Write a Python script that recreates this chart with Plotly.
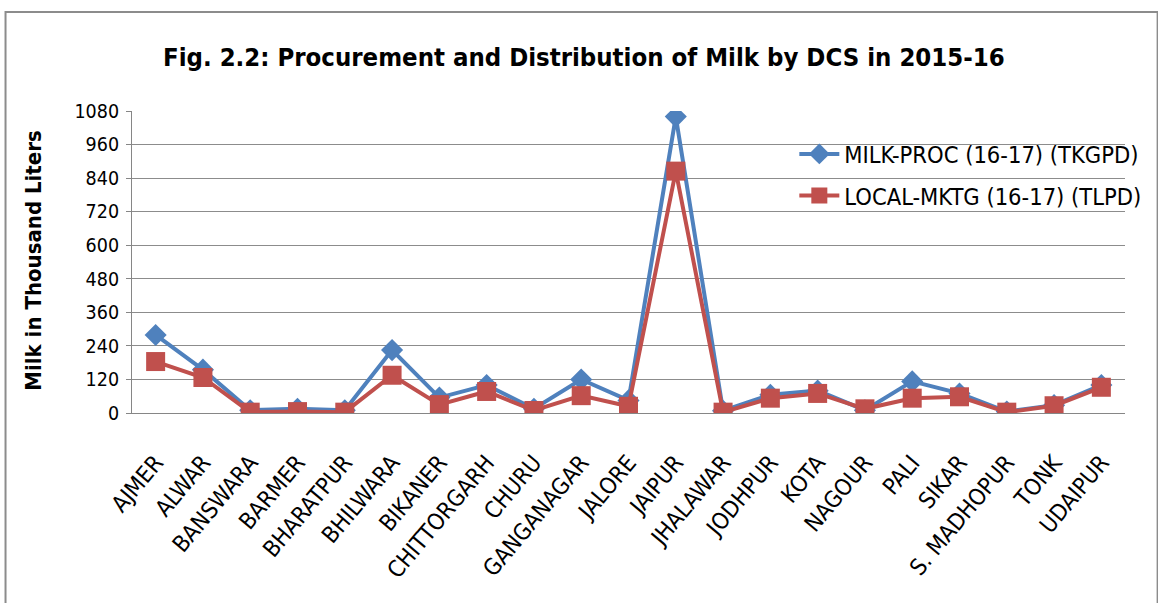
import plotly.graph_objects as go

districts = ["AJMER", "ALWAR", "BANSWARA", "BARMER", "BHARATPUR", "BHILWARA", "BIKANER",
             "CHITTORGARH", "CHURU", "GANGANAGAR", "JALORE", "JAIPUR", "JHALAWAR", "JODHPUR",
             "KOTA", "NAGOUR", "PALI", "SIKAR", "S. MADHOPUR", "TONK", "UDAIPUR"]
milk_proc = [279, 155, 10, 15, 10, 225, 55, 100, 15, 120, 45, 1060, 8, 65,
             80, 10, 113, 70, 5, 28, 100]
local_mktg = [184, 127, 3, 5, 3, 135, 30, 77, 9, 62, 24, 865, 3, 53,
              70, 15, 53, 58, 3, 26, 92]
y_ticks = [0, 120, 240, 360, 480, 600, 720, 840, 960, 1080]

FONT = "DejaVu Sans Condensed, Open Sans, sans-serif"
BLUE = "#4F81BD"
RED = "#C0504D"

fig = go.Figure()
fig.add_trace(go.Scatter(
    x=districts, y=milk_proc, name="MILK-PROC (16-17) (TKGPD)",
    mode="lines+markers", legendgroup="proc",
    line=dict(color=BLUE, width=4),
    marker=dict(symbol="diamond", size=17, color=BLUE),
))
fig.add_trace(go.Scatter(
    x=districts, y=local_mktg, name="LOCAL-MKTG (16-17) (TLPD)",
    mode="lines+markers", legendgroup="mktg",
    line=dict(color=RED, width=4),
    marker=dict(symbol="square", size=19, color=RED),
))

fig.update_layout(
    width=1158, height=603,
    margin=dict(l=132, r=21, t=111, b=190),
    paper_bgcolor="white", plot_bgcolor="white",
    font=dict(family=FONT, color="black"),
    showlegend=True,
    legend=dict(x=0.667, y=0.93, xanchor="left", yanchor="top",
                font=dict(size=23.5, family=FONT), bgcolor="rgba(0,0,0,0)",
                tracegroupgap=8, itemwidth=40),
    annotations=[
        dict(text="<b>Fig. 2.2: Procurement and Distribution of Milk by DCS in 2015-16</b>",
             xref="paper", yref="paper", x=(589 - 132) / 1005, y=(413 - 57) / 302,
             xanchor="center", yanchor="middle", showarrow=False,
             font=dict(size=25.5, family=FONT)),
        dict(text="<b>Milk in Thousand Liters</b>", textangle=-90,
             xref="paper", yref="paper", x=(32 - 132) / 1005, y=0.505,
             xanchor="center", yanchor="middle", showarrow=False,
             font=dict(size=22, family=FONT)),
    ],
    shapes=[
        dict(type="rect", xref="paper", yref="paper",
             x0=(4 - 132) / 1005, x1=(1170 - 132) / 1005,
             y0=(413 - 620) / 302, y1=(413 - 12) / 302,
             line=dict(color="#8C8C8C", width=2), layer="below"),
    ],
)

fig.update_xaxes(
    type="category", tickangle=-50, tickfont=dict(size=23, family=FONT),
    showline=True, linecolor="#868686", linewidth=1, showgrid=False,
    ticks="", ticklabelstandoff=26, range=[-0.5, len(districts) - 0.5],
)
fig.update_yaxes(
    range=[0, 1080], tickvals=y_ticks, ticktext=[str(v) for v in y_ticks],
    tickfont=dict(size=19.5, family=FONT),
    showgrid=True, gridcolor="#8C8C8C", gridwidth=1,
    showline=True, linecolor="#868686", linewidth=1,
    zeroline=False, ticks="outside", ticklen=5, tickcolor="#868686",
    ticklabelstandoff=3,
)

fig.write_html("out.html")
